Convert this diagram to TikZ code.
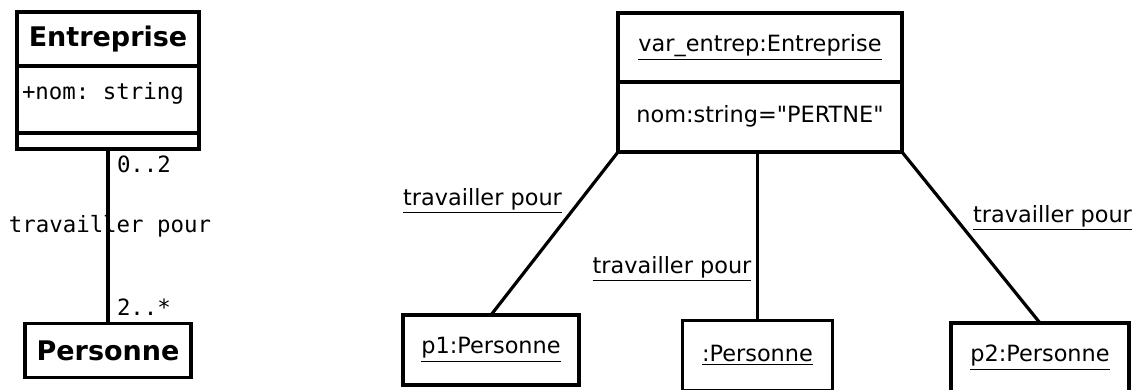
\documentclass[tikz,border=0pt]{standalone}
\usepackage{fontspec}
\setmainfont{DejaVu Sans}[Ligatures=TeXOff]
\setmonofont{DejaVu Sans Mono}
\usetikzlibrary{positioning}

\begin{document}
\begin{tikzpicture}[
    x=0.5pt, y=-0.5pt,
    every node/.style={font=\fontsize{11.2}{13}\selectfont, inner sep=0pt, outer sep=0pt},
    cls/.style={draw, line width=1.6pt},
    titre/.style={font=\bfseries\fontsize{13.5}{15}\selectfont},
    mono/.style={font=\ttfamily\fontsize{11.2}{13}\selectfont},
    lien/.style={line width=1.6pt}
  ]
  \clip (0,0) rectangle (1134,390);

  % Diagramme de classes (gauche)
  \node[cls, titre, minimum width=91pt, minimum height=27pt] (ce) at (108,39) {Entreprise};
  \node[cls, minimum width=91pt, minimum height=33.5pt, below=0pt of ce] (ca) {};
  \node[mono, anchor=base west] (cat) at (22,100) {+nom: string};
  \node[cls, minimum width=91pt, minimum height=8pt, below=0pt of ca] (co) {};
  \node[cls, titre, minimum width=83pt, minimum height=27pt] (cp) at (108,350.5) {Personne};
  \draw[lien] (co.south) -- (cp.north);
  \node[mono, anchor=base west] (m1) at (117,172) {0..2};
  \node[mono, anchor=base west] (m2) at (117,315) {2..*};
  \node[mono, anchor=base] (an) at (110,232) {travailler pour};

  % Diagramme d'objets (droite)
  \node[cls, minimum width=142pt, minimum height=34.5pt] (oe) at (760,47.5) {\underline{var\_entrep:Entreprise}};
  \node[cls, minimum width=142pt, minimum height=35pt, below=0pt of oe] (oa) {};
  \node[anchor=base] (oat) at (760,122) {nom:string="PERTNE"};
  \node[cls, minimum width=88pt, minimum height=35pt] (p1) at (491,350) {\underline{p1:Personne}};
  \node[cls, minimum width=75pt, minimum height=35pt] (p0) at (757.5,355.5) {\underline{:Personne}};
  \node[cls, minimum width=89pt, minimum height=35pt] (p2) at (1040,358) {\underline{p2:Personne}};
  \draw[lien] (oa.south west) -- (p1.north);
  \draw[lien] (p0.north |- oa.south) -- (p0.north);
  \draw[lien] (oa.south east) -- (p2.north);
  \node[anchor=base] (l1) at (482.5,205) {\underline{travailler pour}};
  \node[anchor=base] (l2) at (672,273) {\underline{travailler pour}};
  \node[anchor=base] (l3) at (1052.5,222) {\underline{travailler pour}};
\end{tikzpicture}
\end{document}
